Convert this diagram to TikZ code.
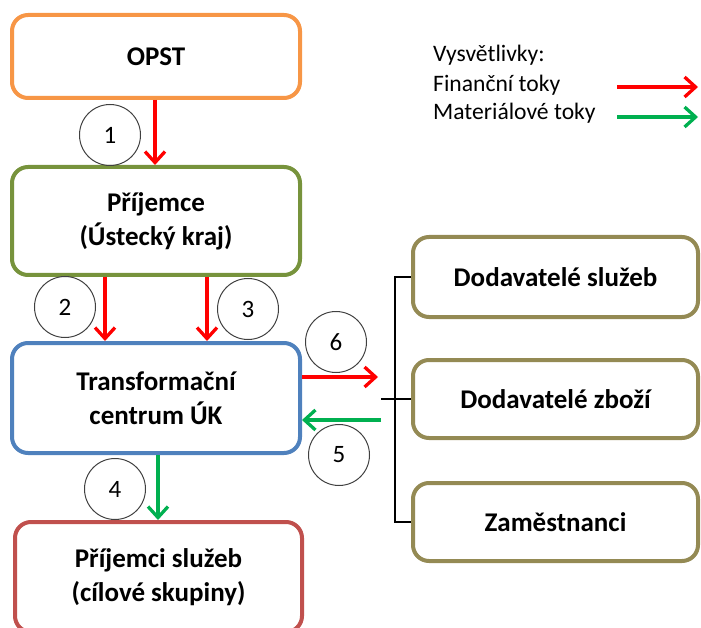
\documentclass[tikz,border=0pt]{standalone}
\usepackage{fontspec}
\setmainfont{Carlito}
\usetikzlibrary{arrows.meta}
\definecolor{corange}{HTML}{F79646}
\definecolor{cgreen}{HTML}{77933C}
\definecolor{cblue}{HTML}{4F81BD}
\definecolor{cred}{HTML}{C0504D}
\definecolor{colive}{HTML}{948A54}
\definecolor{finred}{HTML}{FF0000}
\definecolor{matgreen}{HTML}{00B050}
\begin{document}
\begin{tikzpicture}[x=1pt,y=-1pt,
  box/.style={draw,line width=4pt,rounded corners=16pt,fill=white,align=center,
    font=\bfseries\fontsize{27}{34}\selectfont,inner sep=0pt},
  numc/.style={draw=black!75,line width=1pt,circle,minimum size=61pt,inner sep=0pt,
    font=\fontsize{25}{25}\selectfont},
  fin/.style={draw=finred,line width=3.3pt,-{Straight Barb[length=11pt,width=20pt]}},
  mat/.style={draw=matgreen,line width=3.3pt,-{Straight Barb[length=11pt,width=20pt]}},
  legtext/.style={anchor=west,inner sep=0pt,font=\fontsize{23.6}{26}\selectfont},
  brk/.style={draw=black,line width=2.3pt}]
\useasboundingbox (0,0) rectangle (701,628);
\clip (0,0) rectangle (701,628);
% main boxes
\node[box,draw=corange,minimum width=288pt,minimum height=83pt] (opst) at (156,56.5) {OPST};
\node[box,draw=cgreen,minimum width=288pt,minimum height=108pt] (prij) at (156,221) {Příjemce\\(Ústecký kraj)};
\node[box,draw=cblue,minimum width=288pt,minimum height=110pt] (tc) at (156,398) {Transformační\\centrum ÚK};
\node[box,draw=cred,minimum width=287pt,minimum height=110pt] (ps) at (158.5,577) {Příjemci služeb\\(cílové skupiny)};
% right boxes
\node[box,draw=colive,minimum width=285pt,minimum height=80pt] (ds) at (555.5,277) {Dodavatelé služeb};
\node[box,draw=colive,minimum width=285pt,minimum height=78pt] (dz) at (555.5,399) {Dodavatelé zboží};
\node[box,draw=colive,minimum width=285pt,minimum height=78pt] (za) at (555.5,522) {Zaměstnanci};
% bracket
\coordinate (tip) at ([xshift=-30pt]dz.west);
\draw[brk] (ds.west) -- ++(-16,0) |- (za.west);
\draw[brk] (dz.west) -- (tip);
% number circles
\node[numc] (n1) at (110,135) {1};
\node[numc] (n2) at (65,307) {2};
\node[numc] (n3) at (248,309) {3};
\node[numc] (n4) at (115,489) {4};
\node[numc] (n5) at (339,455) {5};
\node[numc] (n6) at (336,342) {6};
% flows
\draw[fin] ([xshift=-1pt]opst.south) -- ([xshift=-1pt]prij.north);
\draw[fin] ([xshift=-51pt]prij.south) -- ([xshift=-51pt]tc.north);
\draw[fin] ([xshift=51pt]prij.south) -- ([xshift=51pt]tc.north);
\draw[mat] ([xshift=2pt]tc.south) -- ([xshift=2pt]tc.south |- ps.north);
\draw[fin,shorten >=3pt] ([yshift=21pt]tc.east) -- ([yshift=21pt]tc.east -| tip);
\draw[mat] ([yshift=-22pt]tc.east -| tip) -- ([yshift=-22pt]tc.east);
% legend
\node[legtext] (lv) at (433,55) {Vysvětlivky:};
\node[legtext] (lf) at (433,85) {Finanční toky};
\node[legtext] (lm) at (433,113) {Materiálové toky};
\coordinate (lfa) at (617,87);
\coordinate (lfb) at (698,87);
\coordinate (lma) at (617,117);
\coordinate (lmb) at (698,117);
\draw[fin] (lfa) -- (lfb);
\draw[mat] (lma) -- (lmb);
\end{tikzpicture}
\end{document}
